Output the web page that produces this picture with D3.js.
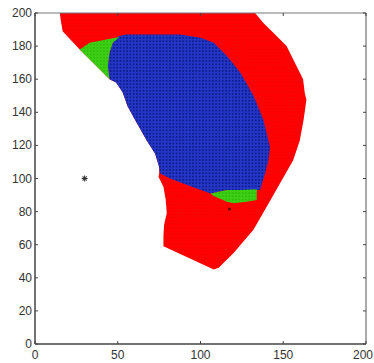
<!DOCTYPE html>
<html><head><meta charset="utf-8">
<script src="https://cdn.jsdelivr.net/npm/d3@7"></script>
<style>body{margin:0;background:#fff}svg{display:block}text{font-family:"Liberation Sans",Arial,sans-serif}</style>
</head><body>
<script>
// Region boundaries (data units)
const redRegion = [[15,200],[15.5,196],[16.7,189],[27,178],[39,166],[45,160],[49,158],[53,152],[56,143.5],[61.5,133.5],[67.5,123],[72.6,115],[75,107],[75,103],[74.6,101],[77.6,95],[79,87],[79.6,79],[78,72],[77.6,65],[77.6,59],[108,45],[111,46],[120,55],[132,69],[140,83],[148,97],[156,111],[160,123],[162.3,135.5],[164,147.6],[163,151.6],[162,160],[158,168],[152,180],[144,188],[138,194],[133,200]];
const blueRegion = [[50.4,186],[55,187],[87.7,187],[100,185],[108,182],[116,174],[124,164],[132,150],[138,135.5],[142,119],[141,111],[139,103],[136,93],[124,93],[116,93],[106,91],[92,96],[81.7,100],[75.6,103],[75,107],[72.6,115],[67.5,123],[61.5,133.5],[56,143.5],[53,152],[49,158],[45,160],[44,168],[45,176],[47,182]];
const greenTop = [[27,178],[33,182],[43,184],[51,185.5],[47,182],[45,176],[44,168],[45,160],[39,166]];
const greenBottom = [[106,91],[116,93],[124,93],[134,93.5],[134,87],[128,86],[120,85],[116,86],[108,89.5]];
const starPoints = [[30,100]];
const smallMarkers = [[117.5,81.5]];
const xTicks = [0,50,100,150,200];
const yTicks = [0,20,40,60,80,100,120,140,160,180,200];

const W=374,H=363, L=35, R=366, T=13, B=344;
const svg=d3.select("body").append("svg").attr("width",W).attr("height",H);
const x=d3.scaleLinear().domain([0,200]).range([L,R]);
const y=d3.scaleLinear().domain([0,200]).range([B,T]);
const line=d3.line().x(d=>x(d[0])).y(d=>y(d[1])).curve(d3.curveLinearClosed);

const defs=svg.append("defs");
function dotPattern(id,bg,dot,r){
  const p=defs.append("pattern").attr("id",id).attr("patternUnits","userSpaceOnUse").attr("width",3.3).attr("height",3.3);
  p.append("rect").attr("width",3.3).attr("height",3.3).attr("fill",bg);
  p.append("circle").attr("cx",1.65).attr("cy",1.65).attr("r",r).attr("fill",dot);
}
dotPattern("pb","#2437c8","#0e1c8e",1.0);
dotPattern("pg","#3ccf14","#2cb50a",0.9);
dotPattern("pr","#ff0000","#f20808",0.9);

const g=svg.append("g");
g.append("path").attr("d",line(redRegion)).attr("fill","url(#pr)");
g.append("path").attr("d",line(blueRegion)).attr("fill","url(#pb)");
g.append("path").attr("d",line(greenTop)).attr("fill","url(#pg)");
g.append("path").attr("d",line(greenBottom)).attr("fill","url(#pg)");

// markers
starPoints.forEach(p=>{
  const s=svg.append("g").attr("transform",`translate(${x(p[0])},${y(p[1])})`);
  [0,45,90,135].forEach(a=>s.append("line").attr("x1",-3).attr("x2",3).attr("y1",0).attr("y2",0)
    .attr("transform",`rotate(${a})`).attr("stroke","#333").attr("stroke-width",1));
});
smallMarkers.forEach(p=>{
  svg.append("circle").attr("cx",x(p[0])).attr("cy",y(p[1])).attr("r",1.5).attr("fill","#5a0a0a");
});

// axes box
const ax=svg.append("g").attr("stroke","#444").attr("fill","none");
ax.append("line").attr("x1",L).attr("x2",L).attr("y1",T).attr("y2",B).attr("stroke-width",1.5);
ax.append("line").attr("x1",L).attr("x2",R).attr("y1",B).attr("y2",B).attr("stroke-width",1.5);
ax.append("line").attr("x1",L).attr("x2",R).attr("y1",T).attr("y2",T).attr("stroke","#777").attr("stroke-width",1);
ax.append("line").attr("x1",R).attr("x2",R).attr("y1",T).attr("y2",B).attr("stroke","#555").attr("stroke-width",1);

xTicks.forEach((t,i)=>{
  ax.append("line").attr("x1",x(t)).attr("x2",x(t)).attr("y1",B).attr("y2",B-3).attr("stroke-width",1);
  ax.append("line").attr("x1",x(t)).attr("x2",x(t)).attr("y1",T).attr("y2",T+3).attr("stroke-width",1);
  const last=i===xTicks.length-1;
  svg.append("text").attr("x",last?W-1:x(t)).attr("y",B+15).attr("text-anchor",last?"end":"middle")
    .attr("font-size",12).attr("fill","#333").text(t);
});
yTicks.forEach(t=>{
  ax.append("line").attr("x1",L).attr("x2",L+3).attr("y1",y(t)).attr("y2",y(t)).attr("stroke-width",1);
  ax.append("line").attr("x1",R).attr("x2",R-3).attr("y1",y(t)).attr("y2",y(t)).attr("stroke-width",1);
  svg.append("text").attr("x",L-3).attr("y",y(t)+4).attr("text-anchor","end").attr("font-size",12).attr("fill","#333").text(t);
});
</script>
</body></html>
